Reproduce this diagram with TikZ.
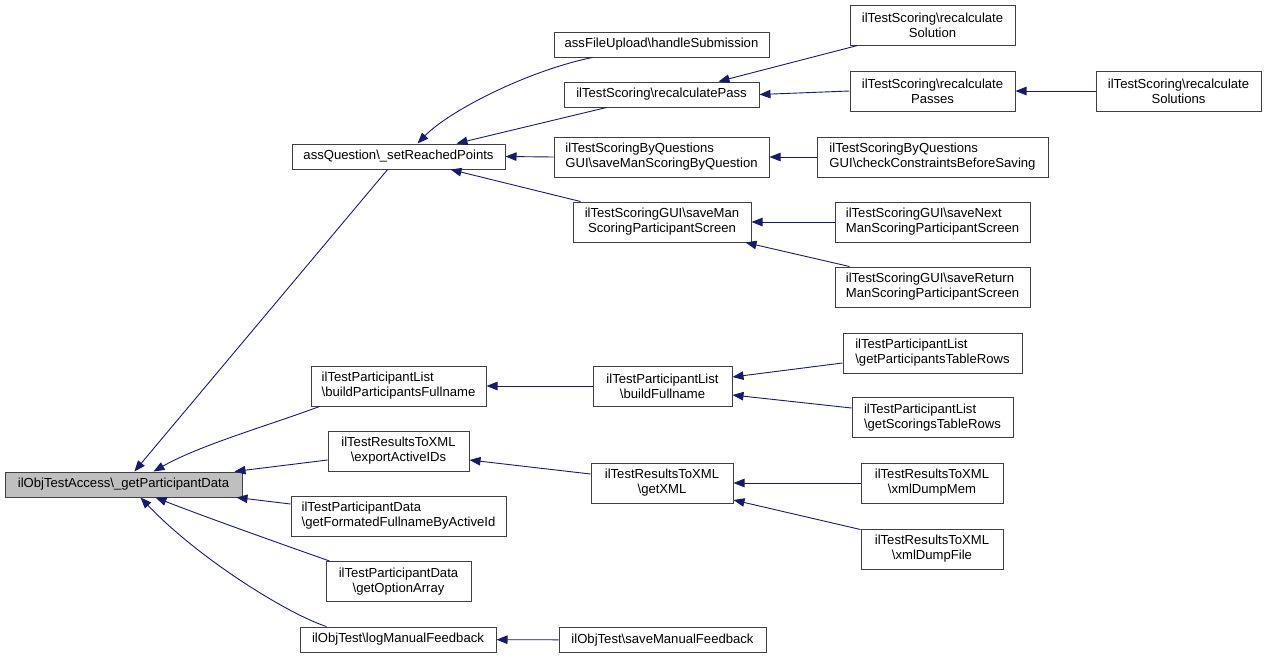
\documentclass[tikz,border=0pt]{standalone}
\usepackage{fontspec}
\setmainfont{Liberation Sans}
\usetikzlibrary{arrows.meta,calc}
\definecolor{edgeblue}{HTML}{191970}
\definecolor{boxline}{HTML}{404040}
\definecolor{hlfill}{HTML}{BFBFBF}
\begin{document}
\begin{tikzpicture}[x=1pt,y=-1pt,
  box/.style={draw=boxline, line width=1pt, fill=white, inner sep=0pt, font=\fontsize{13.1}{15}\selectfont},
  cbox/.style={box, align=center},
  lbox/.style={box, align=left},
  edge/.style={draw=edgeblue, line width=0.9pt, -{Triangle[length=11pt,width=8.5pt]}}]
\useasboundingbox (0,0) rectangle (1267,659);
% column 0
\node[cbox, fill=hlfill, minimum width=237pt, minimum height=25pt] (A) at (123.5,484.5) {ilObjTestAccess\textbackslash\_getParticipantData};
% column 1
\node[cbox, minimum width=213pt, minimum height=25pt] (B) at (398.5,156.5) {assQuestion\textbackslash\_setReachedPoints};
\node[lbox, minimum width=175pt, minimum height=40pt] (M) at (398.5,386) {ilTestParticipantList\\\textbackslash buildParticipantsFullname};
\node[cbox, minimum width=141pt, minimum height=40pt] (Q) at (398.5,451) {ilTestResultsToXML\\\textbackslash exportActiveIDs};
\node[lbox, minimum width=215pt, minimum height=40pt] (U) at (398.5,516) {ilTestParticipantData\\\textbackslash getFormatedFullnameByActiveId};
\node[cbox, minimum width=145pt, minimum height=40pt] (V) at (398.5,581.5) {ilTestParticipantData\\\textbackslash getOptionArray};
\node[cbox, minimum width=196pt, minimum height=25pt] (W) at (398,639.5) {ilObjTest\textbackslash logManualFeedback};
% column 2
\node[cbox, minimum width=215pt, minimum height=25pt] (C) at (661.5,44.5) {assFileUpload\textbackslash handleSubmission};
\node[cbox, minimum width=195pt, minimum height=25pt] (D) at (661.5,94.5) {ilTestScoring\textbackslash recalculatePass};
\node[lbox, minimum width=215pt, minimum height=40pt] (H) at (661.5,157) {ilTestScoringByQuestions\\GUI\textbackslash saveManScoringByQuestion};
\node[cbox, minimum width=178pt, minimum height=40pt] (J) at (662,222) {ilTestScoringGUI\textbackslash saveMan\\ScoringParticipantScreen};
\node[cbox, minimum width=139pt, minimum height=40pt] (N) at (662.5,386) {ilTestParticipantList\\\textbackslash buildFullname};
\node[cbox, minimum width=142pt, minimum height=40pt] (R) at (662,483) {ilTestResultsToXML\\\textbackslash getXML};
\node[cbox, minimum width=207pt, minimum height=25pt] (X) at (662.5,640) {ilObjTest\textbackslash saveManualFeedback};
% column 3
\node[cbox, minimum width=165pt, minimum height=40pt] (E) at (932.5,25) {ilTestScoring\textbackslash recalculate\\Solution};
\node[cbox, minimum width=165pt, minimum height=40pt] (F) at (932.5,91) {ilTestScoring\textbackslash recalculate\\Passes};
\node[lbox, minimum width=231pt, minimum height=40pt] (I) at (932.5,157) {ilTestScoringByQuestions\\GUI\textbackslash checkConstraintsBeforeSaving};
\node[lbox, minimum width=195pt, minimum height=40pt] (K) at (932.5,222) {ilTestScoringGUI\textbackslash saveNext\\ManScoringParticipantScreen};
\node[lbox, minimum width=195pt, minimum height=40pt] (L) at (932.5,287) {ilTestScoringGUI\textbackslash saveReturn\\ManScoringParticipantScreen};
\node[lbox, minimum width=179pt, minimum height=40pt] (O) at (932.5,353) {ilTestParticipantList\\\textbackslash getParticipantsTableRows};
\node[lbox, minimum width=161pt, minimum height=40pt] (P) at (932.5,417.5) {ilTestParticipantList\\\textbackslash getScoringsTableRows};
\node[cbox, minimum width=142pt, minimum height=40pt] (S) at (932,483) {ilTestResultsToXML\\\textbackslash xmlDumpMem};
\node[cbox, minimum width=142pt, minimum height=40pt] (T) at (932,549) {ilTestResultsToXML\\\textbackslash xmlDumpFile};
% column 4
\node[cbox, minimum width=165pt, minimum height=40pt] (G) at (1178.5,91) {ilTestScoring\textbackslash recalculate\\Solutions};
% edges into A
\draw[edge] (B) -- (A);
\draw[edge] ($(M.south west)+(9,0)$) .. controls (270,425) and (200,445) .. ($(A.north)+(30,0)$);
\draw[edge] ($(Q.west)+(0,9)$) -- ($(A.north east)+(-8,0)$);
\draw[edge] ($(U.west)+(0,-12)$) -- ($(A.south east)+(-6,0)$);
\draw[edge] ($(V.north west)+(4,0)$) .. controls (270,540) and (200,515) .. ($(A.south)+(32,0)$);
\draw[edge] ($(W.north west)+(27,0)$) .. controls (290,615) and (200,560) .. ($(A.south)+(17,0)$);
% edges into B
\draw[edge] ($(C.south west)+(39,0)$) .. controls (530,70) and (450,110) .. ($(B.north)+(19,0)$);
\draw[edge] ($(D.south west)+(43,0)$) -- ($(B.north)+(58,0)$);
\draw[edge] (H.west) -- (B.east);
\draw[edge] ($(J.north west)+(8,0)$) -- ($(B.south)+(52,0)$);
% edges into D, F
\draw[edge] ($(E.south west)+(8,0)$) -- ($(D.north)+(57,0)$);
\draw[edge] (F.west) -- (D.east);
\draw[edge] (G) -- (F);
% H, J
\draw[edge] (I) -- (H);
\draw[edge] (K) -- (J);
\draw[edge] ($(L.north west)+(15,0)$) -- ($(J.south east)+(-6,0)$);
% M, N
\draw[edge] (N) -- (M);
\draw[edge] ($(O.west)+(0,10)$) -- ($(N.east)+(0,-9)$);
\draw[edge] ($(P.west)+(0,-9.5)$) -- ($(N.east)+(0,9)$);
% Q, R
\draw[edge] ($(R.west)+(0,-9)$) -- ($(Q.east)+(0,9)$);
\draw[edge] (S) -- (R);
\draw[edge] ($(T.north west)+(0,1)$) -- ($(R.east)+(0,17)$);
% W
\draw[edge] (X) -- (W);
\end{tikzpicture}
\end{document}
